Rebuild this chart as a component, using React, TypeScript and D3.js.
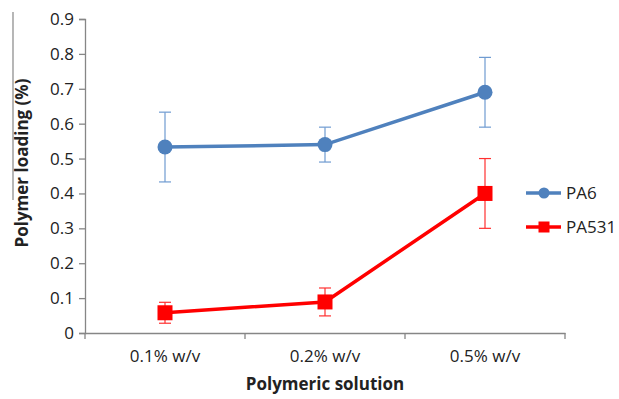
import React, { useEffect, useRef } from "react";
import * as d3 from "d3";

const categories = ["0.1% w/v", "0.2% w/v", "0.5% w/v"];
const pa6Values = [0.533, 0.54, 0.69];
const pa6Err = [0.1, 0.05, 0.1];
const pa531Values = [0.058, 0.089, 0.4];
const pa531ErrUp = [0.03, 0.04, 0.1];
const pa531ErrDown = [0.03, 0.04, 0.1];
const yTicks = [0, 0.1, 0.2, 0.3, 0.4, 0.5, 0.6, 0.7, 0.8, 0.9];

const width = 619;
const height = 399;
const margin = { top: 19, right: 54, bottom: 66, left: 85 };
const font = "'Open Sans', sans-serif";

const App = () => {
  const ref = useRef<SVGSVGElement>(null);

  useEffect(() => {
    const svg = d3.select(ref.current);
    svg.selectAll("*").remove();

    const x = d3
      .scaleBand()
      .domain(categories)
      .range([margin.left, width - margin.right]);
    const y = d3
      .scaleLinear()
      .domain([0, 0.9])
      .range([height - margin.bottom, margin.top]);
    const cx = (c: string) => (x(c) as number) + x.bandwidth() / 2;
    const axisColor = "#868686";

    // y axis
    const yAxis = svg
      .append("g")
      .attr("transform", `translate(${margin.left},0)`)
      .call(
        d3
          .axisLeft(y)
          .tickValues(yTicks)
          .tickSize(6)
          .tickPadding(5)
          .tickFormat((d) => (d === 0 ? "0" : d3.format(".1f")(d as number)))
      );
    yAxis.select(".domain").attr("stroke", axisColor).attr("stroke-width", 1.3);
    yAxis.selectAll(".tick line").attr("stroke", axisColor).attr("stroke-width", 1.3);
    yAxis
      .selectAll(".tick text")
      .attr("fill", "#222")
      .style("font-family", font)
      .style("font-size", "17px");

    // x axis
    const xAxis = svg
      .append("g")
      .attr("transform", `translate(0,${height - margin.bottom})`)
      .call(d3.axisBottom(x).tickSize(0).tickPadding(17));
    xAxis.select(".domain").attr("stroke", axisColor).attr("stroke-width", 1.3);
    xAxis
      .selectAll(".tick text")
      .attr("fill", "#222")
      .style("font-family", font)
      .style("font-size", "17px");
    const bounds = categories.map((c) => x(c) as number).concat([width - margin.right]);
    xAxis
      .selectAll("line.sep")
      .data(bounds)
      .enter()
      .append("line")
      .attr("class", "sep")
      .attr("x1", (d) => d)
      .attr("x2", (d) => d)
      .attr("y1", 0)
      .attr("y2", 6)
      .attr("stroke", axisColor)
      .attr("stroke-width", 1.3);

    // axis titles
    svg
      .append("text")
      .attr("transform", `translate(28,${163}) rotate(-90)`)
      .attr("text-anchor", "middle")
      .style("font-family", font)
      .style("font-size", "17px")
      .style("font-weight", "bold")
      .attr("fill", "#222")
      .text("Polymer loading (%)");
    svg
      .append("line")
      .attr("x1", 13)
      .attr("x2", 13)
      .attr("y1", 12)
      .attr("y2", 200)
      .attr("stroke", axisColor)
      .attr("stroke-width", 1.2);
    svg
      .append("text")
      .attr("x", cx(categories[1]))
      .attr("y", 390)
      .attr("text-anchor", "middle")
      .style("font-family", font)
      .style("font-size", "17px")
      .style("font-weight", "bold")
      .attr("fill", "#222")
      .text("Polymeric solution");

    const line = d3
      .line<number>()
      .x((_, i) => cx(categories[i]))
      .y((d) => y(d));

    // error bars
    const errBars = (
      vals: number[],
      up: number[],
      down: number[],
      color: string
    ) => {
      const g = svg.append("g").attr("stroke", color).attr("stroke-width", 1.2);
      vals.forEach((v, i) => {
        const px = cx(categories[i]);
        const top = y(v + up[i]);
        const bot = y(v - down[i]);
        g.append("line").attr("x1", px).attr("x2", px).attr("y1", top).attr("y2", bot);
        g.append("line").attr("x1", px - 6).attr("x2", px + 6).attr("y1", top).attr("y2", top);
        g.append("line").attr("x1", px - 6).attr("x2", px + 6).attr("y1", bot).attr("y2", bot);
      });
    };

    errBars(pa6Values, pa6Err, pa6Err, "#6f9bd1");
    errBars(pa531Values, pa531ErrUp, pa531ErrDown, "#ff3030");

    svg
      .append("path")
      .datum(pa6Values)
      .attr("d", line)
      .attr("fill", "none")
      .attr("stroke", "#4f81bd")
      .attr("stroke-width", 3.5);
    svg
      .selectAll("circle.pa6")
      .data(pa6Values)
      .enter()
      .append("circle")
      .attr("class", "pa6")
      .attr("cx", (_, i) => cx(categories[i]))
      .attr("cy", (d) => y(d))
      .attr("r", 7.5)
      .attr("fill", "#4f81bd");

    svg
      .append("path")
      .datum(pa531Values)
      .attr("d", line)
      .attr("fill", "none")
      .attr("stroke", "#ff0000")
      .attr("stroke-width", 3.5);
    svg
      .selectAll("rect.pa531")
      .data(pa531Values)
      .enter()
      .append("rect")
      .attr("class", "pa531")
      .attr("x", (_, i) => cx(categories[i]) - 7.5)
      .attr("y", (d) => y(d) - 7.5)
      .attr("width", 15)
      .attr("height", 15)
      .attr("fill", "#ff0000");

    // legend
    const legend = svg.append("g").attr("transform", "translate(526,193)");
    legend
      .append("line")
      .attr("x1", 0)
      .attr("x2", 35)
      .attr("stroke", "#4f81bd")
      .attr("stroke-width", 3.5);
    legend.append("circle").attr("cx", 18).attr("r", 5.5).attr("fill", "#4f81bd");
    legend
      .append("text")
      .attr("x", 40)
      .attr("y", 6)
      .style("font-family", font)
      .style("font-size", "17px")
      .attr("fill", "#222")
      .text("PA6");
    const legend2 = svg.append("g").attr("transform", "translate(526,227)");
    legend2
      .append("line")
      .attr("x1", 0)
      .attr("x2", 35)
      .attr("stroke", "#ff0000")
      .attr("stroke-width", 3.5);
    legend2
      .append("rect")
      .attr("x", 12.5)
      .attr("y", -5.5)
      .attr("width", 11)
      .attr("height", 11)
      .attr("fill", "#ff0000");
    legend2
      .append("text")
      .attr("x", 40)
      .attr("y", 6)
      .style("font-family", font)
      .style("font-size", "17px")
      .attr("fill", "#222")
      .text("PA531");
  }, []);

  return (
    <svg
      ref={ref}
      width={width}
      height={height}
      style={{ position: "absolute", left: 0, top: 0, background: "#fff" }}
    />
  );
};

export default App;
